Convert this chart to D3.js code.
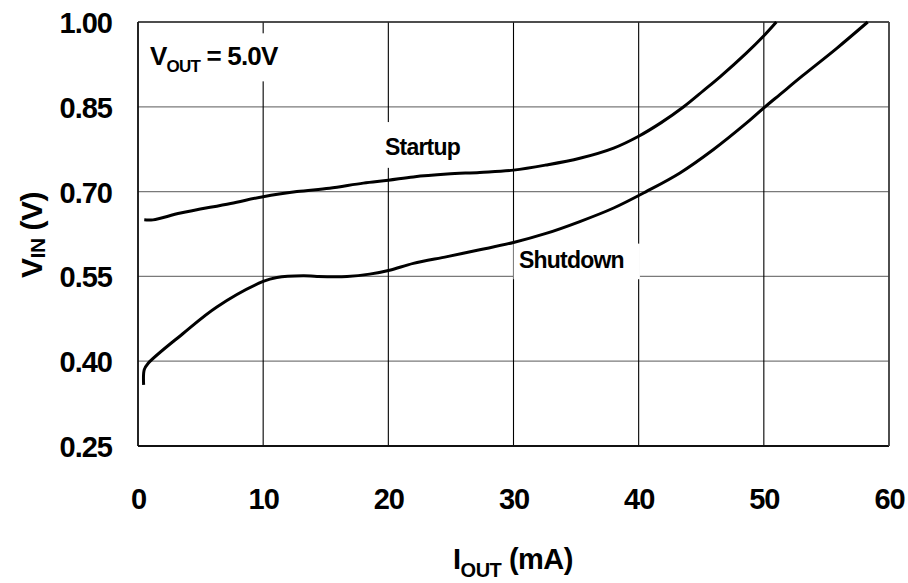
<!DOCTYPE html>
<html>
<head>
<meta charset="utf-8">
<script src="https://cdn.jsdelivr.net/npm/d3@7"></script>
<style>
  html, body { margin: 0; padding: 0; background: #fff; }
  svg text { font-family: "Liberation Sans", Arial, sans-serif; font-weight: bold; fill: #000; }
</style>
</head>
<body>
<svg id="chart" width="908" height="583"></svg>
<script>
// Startup / shutdown input voltage vs. output current (VOUT = 5.0V)
const xTicks = [0, 10, 20, 30, 40, 50, 60];
const yTicks = [0.25, 0.40, 0.55, 0.70, 0.85, 1.00];

const startupI = [0.5, 1.2, 3.4, 7.4, 10, 12.7, 15.3, 18, 20, 22, 24.7, 27.3, 30, 32.6, 35.3, 38, 40, 41.8, 43.6, 45.2, 46.5, 48.6, 50.1, 51];
const startupV = [0.650, 0.650, 0.662, 0.679, 0.691, 0.700, 0.706, 0.715, 0.720, 0.726, 0.731, 0.734, 0.738, 0.747, 0.759, 0.777, 0.798, 0.822, 0.850, 0.879, 0.903, 0.945, 0.978, 1.00];

const shutdownI = [0.45, 0.5, 0.8, 3.6, 6.3, 10, 11.1, 13.2, 14.3, 16.7, 18.5, 20.1, 22, 24.7, 27.3, 30, 32.6, 35.3, 38, 40.6, 43.3, 45.95, 48.6, 50.1, 51.3, 53.1, 55.8, 58.3];
const shutdownV = [0.358, 0.385, 0.396, 0.449, 0.496, 0.541, 0.548, 0.551, 0.550, 0.550, 0.554, 0.561, 0.573, 0.585, 0.597, 0.610, 0.626, 0.647, 0.671, 0.700, 0.733, 0.774, 0.821, 0.850, 0.872, 0.905, 0.953, 1.00];

const margin = { left: 138, right: 19, top: 22, bottom: 137 };
const W = 908, H = 583;
const svg = d3.select("#chart");

const x = d3.scaleLinear().domain([0, 60]).range([margin.left, W - margin.right]);
const y = d3.scaleLinear().domain([0.25, 1.00]).range([H - margin.bottom, margin.top]);

// horizontal grid (gray)
svg.append("g").selectAll("line").data(yTicks).join("line")
  .attr("x1", x(0)).attr("x2", x(60))
  .attr("y1", d => y(d)).attr("y2", d => y(d))
  .attr("stroke", "#7a7a7a").attr("stroke-width", 1.3);

// vertical grid (black)
svg.append("g").selectAll("line").data(xTicks).join("line")
  .attr("x1", d => x(d)).attr("x2", d => x(d))
  .attr("y1", y(0.25)).attr("y2", y(1.00))
  .attr("stroke", "#000").attr("stroke-width", 1.1);

// frame
svg.append("line").attr("x1", x(0)).attr("x2", x(60)).attr("y1", y(1)).attr("y2", y(1))
  .attr("stroke", "#333").attr("stroke-width", 1.6);
svg.append("line").attr("x1", x(0)).attr("x2", x(60)).attr("y1", y(0.25)).attr("y2", y(0.25))
  .attr("stroke", "#111").attr("stroke-width", 2);
svg.append("line").attr("x1", x(0)).attr("x2", x(0)).attr("y1", y(1)).attr("y2", y(0.25))
  .attr("stroke", "#111").attr("stroke-width", 1.6);
svg.append("line").attr("x1", x(60)).attr("x2", x(60)).attr("y1", y(1)).attr("y2", y(0.25))
  .attr("stroke", "#444").attr("stroke-width", 1.6);

// label backgrounds that mask the grid
const boxes = [
  { x0: 1.2, x1: 11.8, y0: 0.98, y1: 0.895 },
  { x0: 19.6, x1: 26.3, y0: 0.823, y1: 0.742 },
  { x0: 30.0, x1: 40.1, y0: 0.608, y1: 0.545 }
];
svg.append("g").selectAll("rect").data(boxes).join("rect")
  .attr("x", d => x(d.x0)).attr("width", d => x(d.x1) - x(d.x0))
  .attr("y", d => y(d.y0)).attr("height", d => y(d.y1) - y(d.y0))
  .attr("fill", "#fff");

// curves
const line = d3.line().x(d => x(d[0])).y(d => y(d[1])).curve(d3.curveCatmullRom.alpha(0.5));
const startup = startupI.map((v, i) => [v, startupV[i]]);
const shutdown = shutdownI.map((v, i) => [v, shutdownV[i]]);
[startup, shutdown].forEach(s => {
  svg.append("path").datum(s).attr("d", line)
    .attr("fill", "none").attr("stroke", "#000").attr("stroke-width", 3)
    .attr("stroke-linejoin", "round");
});

// axes (labels only)
const yAxis = svg.append("g").attr("transform", `translate(${x(0)},0)`)
  .call(d3.axisLeft(y).tickValues(yTicks).tickFormat(d3.format(".2f")).tickSize(0).tickPadding(26));
const xAxis = svg.append("g").attr("transform", `translate(0,${y(0.25)})`)
  .call(d3.axisBottom(x).tickValues(xTicks).tickSize(0).tickPadding(53));
[yAxis, xAxis].forEach(a => {
  a.select(".domain").remove();
  a.selectAll("text").attr("font-size", 29).attr("letter-spacing", -1)
    .attr("font-family", '"Liberation Sans", Arial, sans-serif').attr("font-weight", "bold");
});
yAxis.selectAll("text").attr("dy", "0.36em");
xAxis.selectAll("text").attr("dy", "0.36em");

// axis titles
const yt = svg.append("text").attr("transform", "translate(42,235) rotate(-90)")
  .attr("text-anchor", "middle").attr("font-size", 30).attr("letter-spacing", -0.5);
yt.append("tspan").text("V");
yt.append("tspan").attr("font-size", 21).attr("dy", 3).text("IN");
yt.append("tspan").attr("dy", -3).text(" (V)");

const xt = svg.append("text").attr("x", 513).attr("y", 569)
  .attr("text-anchor", "middle").attr("font-size", 29).attr("letter-spacing", -0.5);
xt.append("tspan").text("I");
xt.append("tspan").attr("font-size", 20).attr("dy", 8).text("OUT");
xt.append("tspan").attr("dy", -8).text(" (mA)");

// annotations
const vt = svg.append("text").attr("x", 150).attr("y", 65).attr("font-size", 26).attr("letter-spacing", -0.8);
vt.append("tspan").text("V");
vt.append("tspan").attr("font-size", 17).attr("dy", 7).text("OUT");
vt.append("tspan").attr("dy", -7).text(" = 5.0V");

svg.append("text").attr("x", 385).attr("y", 155).attr("font-size", 23).attr("letter-spacing", -0.8).text("Startup");
svg.append("text").attr("x", 519).attr("y", 268).attr("font-size", 23).attr("letter-spacing", -0.8).text("Shutdown");
</script>
</body>
</html>
